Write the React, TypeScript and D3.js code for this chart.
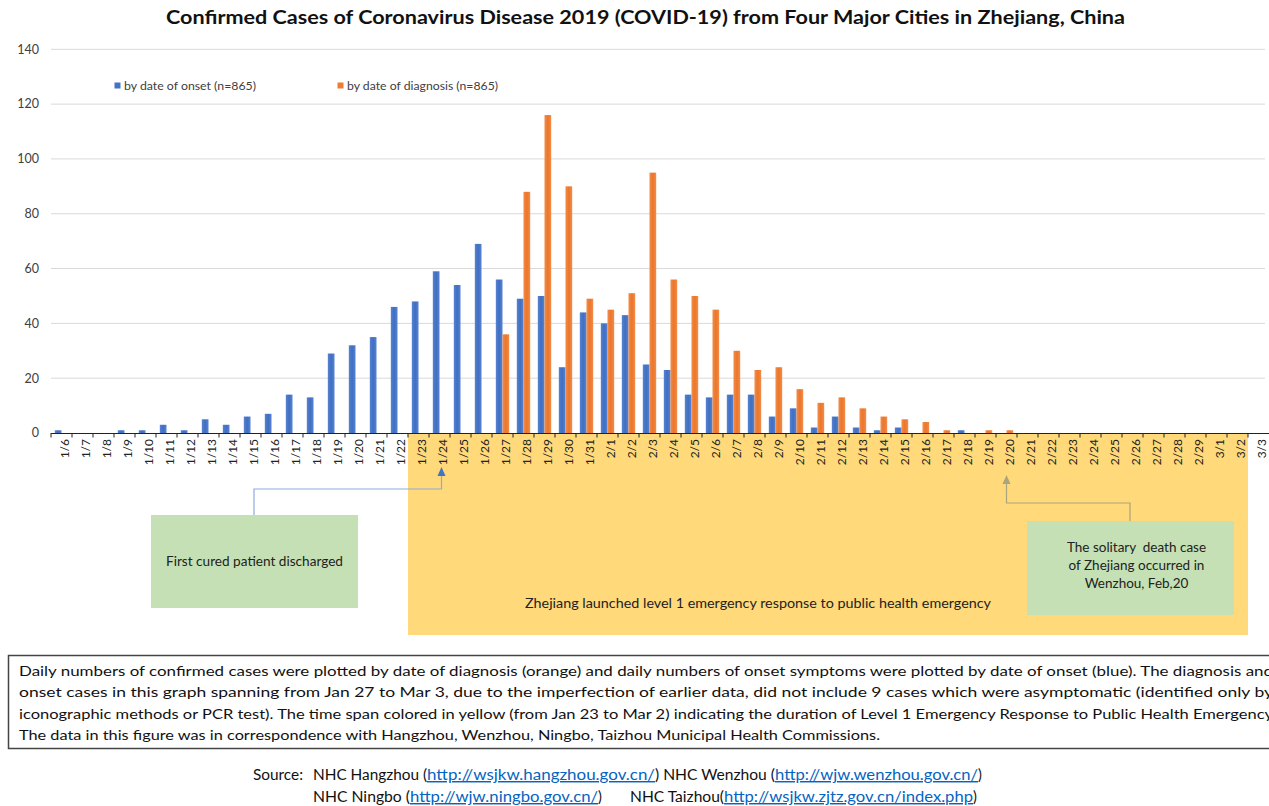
import React from "react";
import * as d3 from "d3";

const dates = [
  "1/6", "1/7", "1/8", "1/9", "1/10", "1/11", "1/12", "1/13", "1/14", "1/15",
  "1/16", "1/17", "1/18", "1/19", "1/20", "1/21", "1/22", "1/23", "1/24", "1/25",
  "1/26", "1/27", "1/28", "1/29", "1/30", "1/31", "2/1", "2/2", "2/3", "2/4",
  "2/5", "2/6", "2/7", "2/8", "2/9", "2/10", "2/11", "2/12", "2/13", "2/14",
  "2/15", "2/16", "2/17", "2/18", "2/19", "2/20", "2/21", "2/22", "2/23", "2/24",
  "2/25", "2/26", "2/27", "2/28", "2/29", "3/1", "3/2", "3/3",
];

const onset = [
  1, 0, 0, 1, 1, 3, 1, 5, 3, 6,
  7, 14, 13, 29, 32, 35, 46, 48, 59, 54,
  69, 56, 49, 50, 24, 44, 40, 43, 25, 23,
  14, 13, 14, 14, 6, 9, 2, 6, 2, 1,
  2, 0, 0, 1, 0, 0, 0, 0, 0, 0,
  0, 0, 0, 0, 0, 0, 0, 0,
];

const diagnosis = [
  0, 0, 0, 0, 0, 0, 0, 0, 0, 0,
  0, 0, 0, 0, 0, 0, 0, 0, 0, 0,
  0, 36, 88, 116, 90, 49, 45, 51, 95, 56,
  50, 45, 30, 23, 24, 16, 11, 13, 9, 6,
  5, 4, 1, 0, 1, 1, 0, 0, 0, 0,
  0, 0, 0, 0, 0, 0, 0, 0,
];

const yTicks = [0, 20, 40, 60, 80, 100, 120, 140];
const seriesNames = ["by date of onset (n=865)", "by date of diagnosis (n=865)"];
const emergencyStart = "1/23";
const emergencyEnd = "3/2";
const curedDate = "1/24";
const deathDate = "2/20";

const noteLines = [
  "Daily numbers of confirmed cases were plotted by date of diagnosis (orange) and daily numbers of onset symptoms were plotted by date of onset (blue). The diagnosis and",
  "onset cases in this graph spanning from Jan 27 to Mar 3, due to the imperfection of earlier data, did not include 9 cases which were asymptomatic (identified only by",
  "iconographic methods or PCR test). The time span colored in yellow (from Jan 23 to Mar 2) indicating the duration of Level 1 Emergency Response to Public Health Emergency",
  "The data in this figure was in correspondence with Hangzhou, Wenzhou, Ningbo, Taizhou Municipal Health Commissions.",
];

const FONT = "Lato, 'Open Sans', sans-serif";
const BLUE = "#4472C4";
const ORANGE = "#ED7D31";
const TXT = "#404040";

export default function App() {
  const W = 1269;
  const H = 806;
  const x = d3
    .scaleBand<string>()
    .domain(dates)
    .range([51, 51 + dates.length * 21])
    .paddingInner(0)
    .paddingOuter(0);
  const y = d3.scaleLinear().domain([0, 140]).range([433, 49.3]);
  const sub = d3
    .scaleBand<string>()
    .domain(["onset", "diagnosis"])
    .range([0, x.bandwidth()])
    .paddingInner(0)
    .paddingOuter(0.57);
  const bw = x.bandwidth();

  const yellowX0 = x(emergencyStart)!;
  const yellowX1 = x(emergencyEnd)! + bw;
  const curedX = x(curedDate)! + bw / 2 + 2;
  const deathX = x(deathDate)! + bw / 2;

  const link = { fill: "#0563C1", textDecoration: "underline" } as const;

  return (
    <svg
      width={W}
      height={H}
      style={{ position: "absolute", left: 0, top: 0, background: "#fff" }}
      fontFamily={FONT}
    >
      <defs>
        <linearGradient id="gBlue" x1="0" x2="1" y1="0" y2="0">
          <stop offset="0" stopColor="#5683d0" />
          <stop offset="0.5" stopColor="#406ec3" />
          <stop offset="1" stopColor="#5683d0" />
        </linearGradient>
        <linearGradient id="gOrange" x1="0" x2="1" y1="0" y2="0">
          <stop offset="0" stopColor="#f18c49" />
          <stop offset="0.5" stopColor="#ec762a" />
          <stop offset="1" stopColor="#f18c49" />
        </linearGradient>
      </defs>

      {/* title */}
      <text
        x={645.5}
        y={24}
        textAnchor="middle"
        fontWeight="bold"
        fontSize={19}
        fill="#111"
        textLength={959}
        lengthAdjust="spacingAndGlyphs"
      >
        Confirmed Cases of Coronavirus Disease 2019 (COVID-19) from Four Major Cities in Zhejiang, China
      </text>

      {/* yellow emergency area */}
      <rect x={yellowX0} y={433} width={yellowX1 - yellowX0} height={202} fill="#FFD97A" />
      <text
        x={525}
        y={608}
        fontSize={13.5}
        fill="#222"
        textLength={466}
        lengthAdjust="spacingAndGlyphs"
      >
        Zhejiang launched level 1 emergency response to public health emergency
      </text>

      {/* gridlines */}
      {yTicks.map((t) => (
        <g key={t}>
          {t > 0 && (
            <line x1={51} x2={1265} y1={y(t)} y2={y(t)} stroke="#d9d9d9" strokeWidth={1} />
          )}
          <text x={39} y={y(t)} dy="0.35em" textAnchor="end" fontSize={12.5} fill={TXT}>
            {t}
          </text>
        </g>
      ))}

      {/* legend */}
      <rect x={114.5} y={82.5} width={6} height={6} fill={BLUE} />
      <text x={124} y={90} fontSize={12} fill={TXT} textLength={132} lengthAdjust="spacingAndGlyphs">
        {seriesNames[0]}
      </text>
      <rect x={337.5} y={82.5} width={6} height={6} fill={ORANGE} />
      <text x={347} y={90} fontSize={12} fill={TXT} textLength={151} lengthAdjust="spacingAndGlyphs">
        {seriesNames[1]}
      </text>

      {/* bars */}
      {dates.map((d, i) => (
        <g key={d}>
          {onset[i] > 0 && (
            <rect
              x={x(d)! + sub("onset")!}
              y={y(onset[i])}
              width={sub.bandwidth()}
              height={y(0) - y(onset[i])}
              fill="url(#gBlue)"
            />
          )}
          {diagnosis[i] > 0 && (
            <rect
              x={x(d)! + sub("diagnosis")!}
              y={y(diagnosis[i])}
              width={sub.bandwidth()}
              height={y(0) - y(diagnosis[i])}
              fill="url(#gOrange)"
            />
          )}
        </g>
      ))}

      {/* x axis */}
      <line x1={51} x2={W} y1={433.5} y2={433.5} stroke="#222" strokeWidth={1.2} />
      {dates.map((d) => (
        <line key={"t" + d} x1={x(d)!} x2={x(d)!} y1={433} y2={437.5} stroke="#222" strokeWidth={1} />
      ))}
      {dates.map((d) => (
        <text
          key={"l" + d}
          transform={`translate(${x(d)! + bw / 2 + 3},${439}) rotate(-90)`}
          textAnchor="end"
          dy="0.35em"
          fontSize={12}
          fill="#222"
        >
          {d}
        </text>
      ))}

      {/* first cured annotation */}
      <polyline
        points={`254,515 254,489 ${curedX},489 ${curedX},475`}
        fill="none"
        stroke="#8FAADC"
        strokeWidth={1.2}
      />
      <polygon points={`${curedX},467 ${curedX - 4},476 ${curedX + 4},476`} fill={BLUE} />
      <rect x={151} y={515} width={207} height={93} fill="#C5E0B4" />
      <text
        x={166}
        y={566}
        fontSize={13.5}
        fill="#222"
        textLength={177}
        lengthAdjust="spacingAndGlyphs"
      >
        First cured patient discharged
      </text>

      {/* death annotation */}
      <polyline
        points={`1130,521 1130,503 ${deathX},503 ${deathX},484`}
        fill="none"
        stroke="#A9A57C"
        strokeWidth={1.2}
      />
      <polygon points={`${deathX},475 ${deathX - 4},484 ${deathX + 4},484`} fill="#A9A57C" />
      <rect x={1027} y={521} width={207} height={94} fill="#C5E0B4" />
      <text textAnchor="middle" fontSize={13.5} fill="#222" style={{ whiteSpace: "pre" }}>
        <tspan x={1136.5} y={552}>{"The solitary\u00a0 death case"}</tspan>
        <tspan x={1136.5} y={570}>of Zhejiang occurred in</tspan>
        <tspan x={1136.5} y={588}>Wenzhou, Feb,20</tspan>
      </text>

      {/* note box */}
      <rect x={8.5} y={655.5} width={1280} height={93} fill="none" stroke="#444" strokeWidth={1.5} />
      {noteLines.map((ln, i) => (
        <text
          key={i}
          x={19}
          y={676 + i * 21.3}
          fontSize={14}
          fill="#111"
          textLength={i < 3 ? 1254 : 861}
          lengthAdjust="spacingAndGlyphs"
        >
          {ln}
        </text>
      ))}

      {/* source */}
      <g fontSize={14.5} fill="#111">
        <text x={253} y={780} textLength={50} lengthAdjust="spacingAndGlyphs">Source:</text>
        <text x={313} y={780} textLength={114} lengthAdjust="spacingAndGlyphs">NHC Hangzhou (</text>
        <text x={427} y={780} {...link} textLength={228} lengthAdjust="spacingAndGlyphs">
          http://wsjkw.hangzhou.gov.cn/
        </text>
        <text x={655} y={780} textLength={120} lengthAdjust="spacingAndGlyphs">) NHC Wenzhou (</text>
        <text x={775} y={780} {...link} textLength={203} lengthAdjust="spacingAndGlyphs">
          http://wjw.wenzhou.gov.cn/
        </text>
        <text x={978} y={780}>)</text>

        <text x={313} y={802} textLength={97} lengthAdjust="spacingAndGlyphs">NHC Ningbo (</text>
        <text x={410} y={802} {...link} textLength={188} lengthAdjust="spacingAndGlyphs">
          http://wjw.ningbo.gov.cn/
        </text>
        <text x={598} y={802}>)</text>
        <text x={630} y={802} textLength={94} lengthAdjust="spacingAndGlyphs">NHC Taizhou(</text>
        <text x={724} y={802} {...link} textLength={249} lengthAdjust="spacingAndGlyphs">
          http://wsjkw.zjtz.gov.cn/index.php
        </text>
        <text x={973} y={802}>)</text>
      </g>
    </svg>
  );
}
